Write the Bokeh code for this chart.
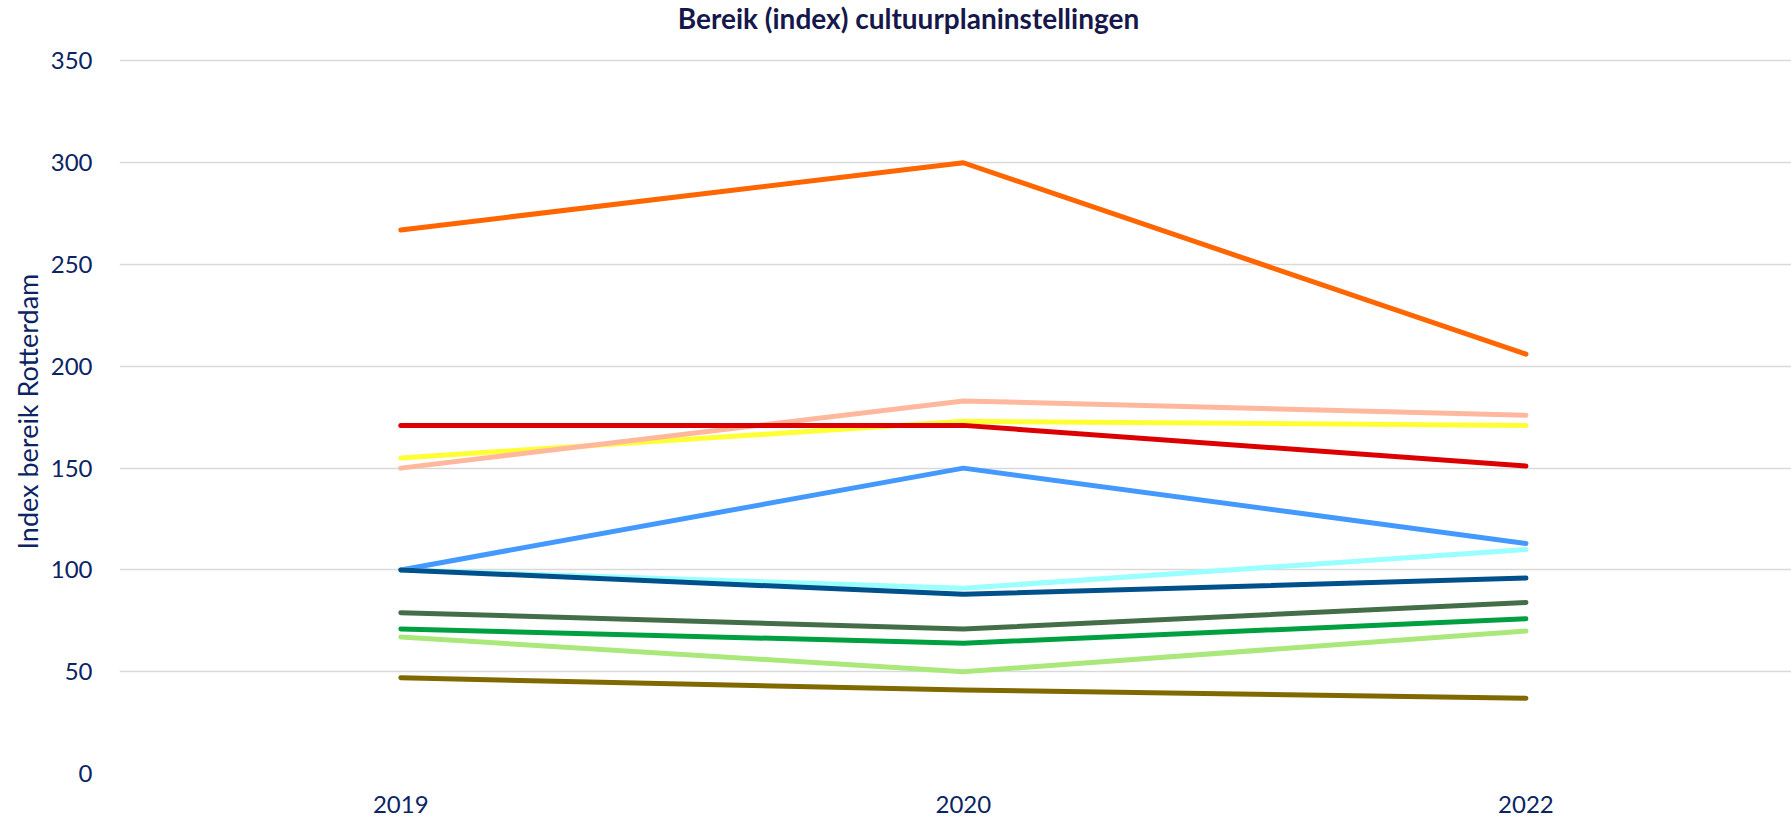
from bokeh.plotting import figure
from bokeh.models import Range1d, FixedTicker, Title, Label
from bokeh.embed import file_html
from bokeh.resources import INLINE

years = ["2019", "2020", "2022"]
title_text = "Bereik (index) cultuurplaninstellingen"
y_title = "Index bereik Rotterdam"
y_ticks = list(range(0, 351, 50))

series_names = ["geel", "zalm", "oranje", "rood", "lichtblauw", "cyaan", "donkerblauw",
                "donkergroen", "groen", "lichtgroen", "olijf"]
geel = [155, 173, 171]
zalm = [150, 183, 176]
oranje = [267, 300, 206]
rood = [171, 171, 151]
lichtblauw = [100, 150, 113]
cyaan = [100, 91, 110]
donkerblauw = [100, 88, 96]
donkergroen = [79, 71, 84]
groen = [71, 64, 76]
lichtgroen = [67, 50, 70]
olijf = [47, 41, 37]

colors = {
    "geel": "#FFFF33",
    "zalm": "#FFB89D",
    "oranje": "#FF6600",
    "rood": "#DD0000",
    "lichtblauw": "#4499FF",
    "cyaan": "#99FFFF",
    "donkerblauw": "#00508C",
    "donkergroen": "#446E48",
    "groen": "#00A040",
    "lichtgroen": "#AAE87C",
    "olijf": "#806A00",
}
values = {
    "geel": geel, "zalm": zalm, "oranje": oranje, "rood": rood,
    "lichtblauw": lichtblauw, "cyaan": cyaan, "donkerblauw": donkerblauw,
    "donkergroen": donkergroen, "groen": groen, "lichtgroen": lichtgroen, "olijf": olijf,
}

xs = list(range(len(years)))

FONT = "Lato"
TEXT = "#0B2463"

xr = Range1d(-0.5, 2.472)
yr = Range1d(0, 379.7)   # frame reaches the top of the canvas; ticks stop at 350
p = figure(width=1791, height=819, output_backend="svg", toolbar_location=None,
           x_range=xr, y_range=yr,
           min_border_left=119, min_border_right=0, min_border_top=0, min_border_bottom=46,
           background_fill_color="white", border_fill_color="white")
p.outline_line_color = None

for name in series_names:
    p.line(xs, values[name], line_color=colors[name], line_width=5,
           line_cap="round", line_join="round")

# chart title inside the (empty) top strip of the frame
p.add_layout(Label(x=xr.start, y=yr.end, x_offset=789, y_offset=-17,
                   text=title_text, text_align="center", text_baseline="middle",
                   text_font=FONT, text_font_size="28px", text_font_style="bold",
                   text_color="#16174A"))

# y axis title as a side title so it can be positioned along the axis
ylab = Title(text=y_title, align="left", offset=224, vertical_align="bottom",
             text_font=FONT, text_font_size="27px", text_font_style="normal",
             text_color=TEXT, standoff=7)
p.add_layout(ylab, "left")

p.xgrid.grid_line_color = None
p.ygrid.grid_line_color = "#D9D9D9"
p.ygrid.grid_line_width = 1.5
p.yaxis.ticker = FixedTicker(ticks=y_ticks)
p.xaxis.ticker = FixedTicker(ticks=xs)
p.xaxis.major_label_overrides = {i: y for i, y in enumerate(years)}

for ax in (p.xaxis[0], p.yaxis[0]):
    ax.axis_line_color = None
    ax.major_tick_line_color = None
    ax.minor_tick_line_color = None
    ax.major_tick_out = 0
    ax.major_tick_in = 0
    ax.major_label_text_font = FONT
    ax.major_label_text_font_size = "24px"
    ax.major_label_text_color = TEXT

p.yaxis.major_label_standoff = 27
p.xaxis.major_label_standoff = 22

open("out.html", "w").write(file_html(p, INLINE))
